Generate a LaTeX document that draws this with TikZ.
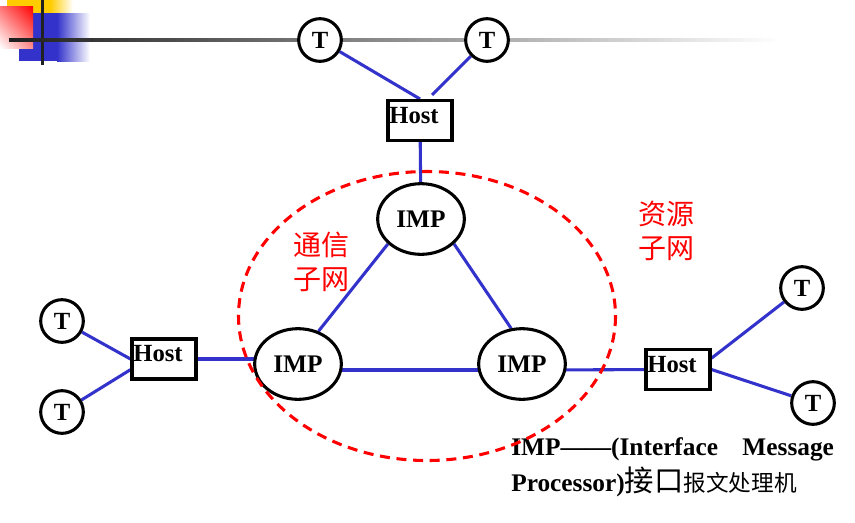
\documentclass[tikz,border=0pt]{standalone}
\usepackage{fontspec}
\setmainfont{Liberation Serif}
\newfontfamily\cjk{Noto Sans CJK SC}
\usetikzlibrary{
	scopes, backgrounds,
	shapes.geometric, shadings
}
\definecolor{azul}{HTML}{3333CC}
\definecolor{amarillo}{HTML}{FFCC00}
\def\grosor{2.3pt}

\tikzset{
	terminal/.style = {
		circle, draw, fill = white, line width = \grosor,
		minimum size = 32pt, inner sep = 0pt,
		font = \fontsize{18.5}{20}\selectfont\bfseries
	},
	imp/.style = {
		ellipse, draw, fill = white, line width = \grosor,
		minimum width = 65pt, minimum height = 53pt, inner sep = 0pt,
		font = \fontsize{19}{20}\selectfont\bfseries
	},
	host/.style = {
		rectangle, draw, fill = white, line width = \grosor,
		inner xsep = 1pt, inner ysep = 0pt,
		text width = 46pt, align = left,
		text height = 16.9pt, text depth = 13.1pt,
		font = \fontsize{18.5}{20}\selectfont\bfseries
	},
	enlace/.style = {azul, line width = \grosor},
	subred/.style = {red, align = center, font = \cjk\fontsize{21}{26}\selectfont}
}

\begin{document}
\begin{tikzpicture}[x = 0.75pt, y = -0.75pt]

	% márgenes del dibujo
	\useasboundingbox (0,0) rectangle (855,522);

	% terminales
	\node[terminal] (tA) at (320,40) {T};
	\node[terminal] (tB) at (487,40) {T};
	\node[terminal] (tC) at (62,321) {T};
	\node[terminal] (tD) at (62,412) {T};
	\node[terminal] (tE) at (802,288) {T};
	\node[terminal] (tF) at (813,403) {T};

	% hosts
	\node[host] (hA) at (420,120.5) {Host};
	\node[host] (hB) at (164,359) {Host};
	\node[host] (hC) at (678,369.5) {Host};

	% procesadores de mensajes
	\node[imp] (iA) at (421,219) {IMP\hspace{3pt}};
	\node[imp] (iB) at (298,364) {IMP\hspace{5pt}};
	\node[imp] (iC) at (522,364) {IMP\hspace{5pt}};

	% subredes
	\node[subred] (comunicacion) at (321,262) {通信\\子网};
	\node[subred] (recursos) at (666,231) {资源\\子网};

	% nota
	\node[anchor = north west, inner sep = 0pt, align = left,
		font = \fontsize{19}{27}\selectfont\bfseries] (nota) at (511,437)
		{\hbox to 242pt{IMP——(Interface\hfill Message}\\
		Processor){\cjk\mdseries\fontsize{22}{27}\selectfont 接口}{\cjk\mdseries\fontsize{17}{27}\selectfont 报文处理机}};

	% contorno de la subred de comunicación
	\draw[red, line width = \grosor, dash pattern = on 7.5pt off 5pt]
		(427,316) ellipse [x radius = 188.5, y radius = 144.5];

	{[on background layer]

	% adorno de la esquina
	\fill[amarillo] (7,0) rectangle (50,13);
	\shade[left color = amarillo, right color = white] (50,0) rectangle (73,13);
	\fill[azul] (19,13) rectangle (57,61);
	\shade[left color = azul, right color = white] (57,13) rectangle (90,61);
	\shade[upper right = red, upper left = red!55, lower right = red!45, lower left = white]
		(0,6) rectangle (33,48);
	\fill[black!87] (40.5,0) rectangle (43.5,65);
	\shade[left color = black!88, right color = white] (9,38.5) rectangle (780,41.5);

	% enlaces
	\draw[enlace] (tA) -- (hA.north);
	\draw[enlace] (tB) -- ([xshift = 9pt, yshift = 3pt]hA.north);
	\draw[enlace] (hA) -- (iA);
	\draw[enlace] (tC) -- (hB.west);
	\draw[enlace] (tD) -- ([yshift = -8pt]hB.west);
	\draw[enlace] (hB) -- (hB -| iB);
	\draw[enlace] (iA.217) -- (iB.58);
	\draw[enlace] (iA.323) -- (iC.107);
	\draw[enlace] ([yshift = -4.5pt]iB.center) -- ([yshift = -4.5pt]iC.center);
	\draw[enlace] ([yshift = -4.5pt]iC.center) -- (hC);
	\draw[enlace] ([yshift = 8.5pt]hC.east) -- (tE);
	\draw[enlace] (hC.east) -- (tF);
	}

\end{tikzpicture}
\end{document}
